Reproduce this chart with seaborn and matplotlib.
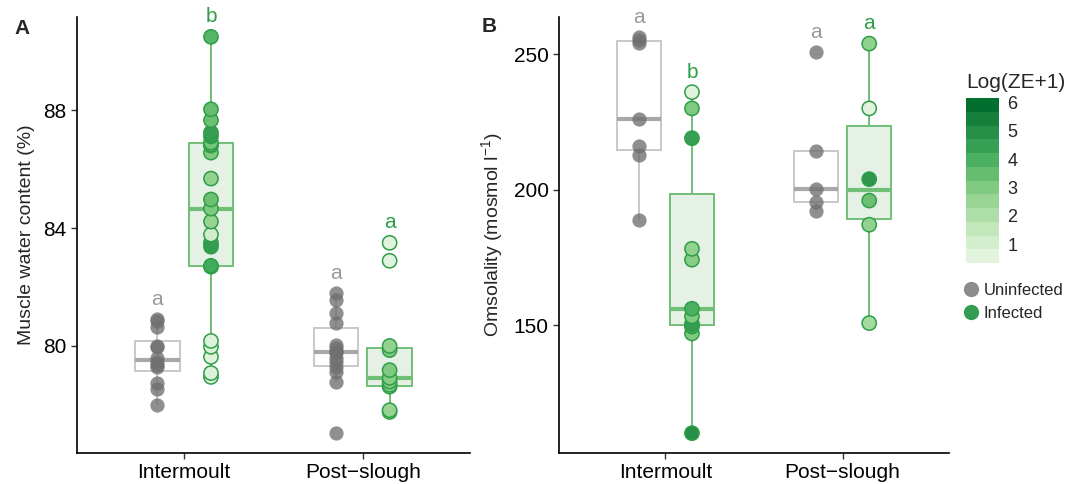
import numpy as np
import pandas as pd
import matplotlib
matplotlib.use("Agg")
import matplotlib.pyplot as plt
import seaborn as sns
from matplotlib.colors import ListedColormap, Normalize
from matplotlib.cm import ScalarMappable
from matplotlib.lines import Line2D

# ---------------------------------------------------------------- data
stages = ["Intermoult", "Post\u2212slough"]
statuses = ["Uninfected", "Infected"]

# Muscle water content (%)
water_uninf_inter = [78.0, 78.55, 78.75, 79.3, 79.35, 79.45, 79.6, 79.95, 80.0, 80.65, 80.85, 80.92]
water_inf_inter = [78.95, 79.08, 79.63, 79.97, 80.17, 82.69, 82.72, 83.37, 83.5, 83.78, 84.22,
                   84.66, 84.97, 85.68, 86.56, 86.8, 86.84, 86.9, 87.11, 87.24, 87.66, 88.03, 90.49]
water_inf_inter_ze = [0.5, 0.6, 0.5, 0.7, 0.6, 4.0, 4.2, 4.6, 4.6, 1.0, 2.5,
                      3.0, 3.4, 2.6, 3.0, 3.0, 3.3, 3.2, 4.6, 4.6, 3.4, 3.5, 3.8]
water_uninf_post = [77.04, 78.78, 79.1, 79.29, 79.45, 79.6, 79.78, 79.8, 79.93, 80.03, 80.78, 81.12, 81.56, 81.8]
water_inf_post = [77.76, 77.82, 78.62, 78.68, 78.79, 78.92, 79.18, 79.86, 80.0, 82.89, 83.5]
water_inf_post_ze = [2.4, 2.5, 2.6, 2.7, 3.0, 2.8, 3.0, 3.0, 2.6, 0.5, 0.5]
water_letters = ["a", "b", "a", "a"]

# Osmolality (mosmol l-1)
osmo_uninf_inter = [189.0, 212.9, 216.2, 226.0, 254.2, 255.3, 256.4]
osmo_inf_inter = [110.2, 147.0, 149.5, 150.5, 153.3, 156.1, 174.2, 178.2, 219.0, 230.0, 236.0]
osmo_inf_inter_ze = [5.0, 3.0, 4.2, 4.6, 3.0, 4.0, 2.8, 2.6, 4.5, 3.0, 0.5]
osmo_uninf_post = [192.0, 195.3, 200.2, 214.1, 250.8]
osmo_inf_post = [150.8, 187.1, 196.0, 203.9, 230.0, 253.9]
osmo_inf_post_ze = [2.2, 2.6, 3.4, 4.8, 0.5, 2.6]
osmo_letters = ["a", "b", "a", "a"]

ze_ticks = [1, 2, 3, 4, 5, 6]

# ---------------------------------------------------------------- style
sns.set_style("ticks")
plt.rcParams["font.family"] = ["Liberation Sans", "DejaVu Sans"]
plt.rcParams["mathtext.fontset"] = "custom"
plt.rcParams["mathtext.rm"] = "Liberation Sans"
plt.rcParams["mathtext.it"] = "Liberation Sans:italic"
plt.rcParams["mathtext.bf"] = "Liberation Sans:bold"

GREY_PT = "#707070"
GREY_BOX = "#c8c8c8"
GREY_MED = "#a8a8a8"
GREEN_EDGE = "#2e9e48"
GREEN_BOX = "#6fbf77"
GREEN_FILL = "#e5f1e5"
GREY_TXT = "#9a9a9a"
GREEN_TXT = "#2e9e48"

base = plt.get_cmap("Greens")
ze_cmap = ListedColormap(base(np.linspace(0.12, 0.88, 256)))
ze_norm = Normalize(vmin=0.34, vmax=6.15)

DODGE = 0.15
PT_SIZE = 105


def make_frame(groups):
    rows = []
    for (stage, status), (vals, ze) in groups.items():
        for i, v in enumerate(vals):
            rows.append({"stage": stage, "status": status, "value": v,
                         "ze": ze[i] if ze is not None else np.nan})
    df = pd.DataFrame(rows)
    code = df["stage"].map({s: i for i, s in enumerate(stages)})
    df["pos"] = code + np.where(df["status"] == "Uninfected", -DODGE, DODGE)
    return df


def draw_panel(ax, df, letters, ylabel, yticks):
    sns.boxplot(data=df, x="stage", y="value", hue="status", order=stages,
                hue_order=statuses, width=0.6, gap=0.17, showfliers=False,
                showcaps=False, saturation=1, linewidth=1.4,
                palette={"Uninfected": "white", "Infected": GREEN_FILL},
                medianprops={"linewidth": 3.0}, legend=False, ax=ax)

    # colour boxes by infection status (left of category = uninfected)
    for p in ax.patches:
        xc = p.get_path().vertices[:, 0].mean()
        if xc - round(xc) < 0:
            p.set_edgecolor(GREY_BOX)
            p.set_facecolor((1, 1, 1, 0))
        else:
            p.set_edgecolor(GREEN_BOX)
            p.set_facecolor(GREEN_FILL)
    for ln in ax.lines:
        xd = np.asarray(ln.get_xdata(), dtype=float)
        if xd.size == 0:
            continue
        xc = xd.mean()
        is_med = ln.get_linewidth() > 2
        if xc - round(xc) < 0:
            ln.set_color(GREY_MED if is_med else GREY_BOX)
        else:
            ln.set_color(GREEN_BOX)

    un = df[df["status"] == "Uninfected"]
    inf = df[df["status"] == "Infected"]
    sns.scatterplot(data=un, x="pos", y="value", color=GREY_PT, alpha=0.78,
                    s=PT_SIZE, linewidth=0, zorder=3, legend=False, ax=ax)
    sns.scatterplot(data=inf, x="pos", y="value", hue="ze", palette=ze_cmap,
                    hue_norm=ze_norm, s=PT_SIZE, edgecolor=GREEN_EDGE, linewidth=1.1,
                    zorder=4, legend=False, ax=ax)

    lo, hi = df["value"].min(), df["value"].max()
    rng = hi - lo
    ax.set_ylim(lo - 0.05 * rng, hi + 0.05 * rng)
    ax.set_xlim(-0.6, 1.6)

    k = 0
    for si, stage in enumerate(stages):
        for status in statuses:
            g = df[(df["stage"] == stage) & (df["status"] == status)]
            col = GREY_TXT if status == "Uninfected" else GREEN_TXT
            ax.text(g["pos"].iloc[0], g["value"].max() + 0.05 * rng, letters[k],
                    ha="center", va="center", color=col, fontsize=15, clip_on=False)
            k += 1

    ax.set_yticks(yticks)
    ax.set_xlabel("")
    ax.set_ylabel(ylabel, fontsize=14, labelpad=6)
    ax.tick_params(axis="both", labelsize=15, length=4, width=1.0, color="#333333",
                   labelcolor="black")
    sns.despine(ax=ax)
    for s in ("left", "bottom"):
        ax.spines[s].set_linewidth(1.2)
        ax.spines[s].set_color("black")


water_df = make_frame({
    (stages[0], "Uninfected"): (water_uninf_inter, None),
    (stages[0], "Infected"): (water_inf_inter, water_inf_inter_ze),
    (stages[1], "Uninfected"): (water_uninf_post, None),
    (stages[1], "Infected"): (water_inf_post, water_inf_post_ze),
})
osmo_df = make_frame({
    (stages[0], "Uninfected"): (osmo_uninf_inter, None),
    (stages[0], "Infected"): (osmo_inf_inter, osmo_inf_inter_ze),
    (stages[1], "Uninfected"): (osmo_uninf_post, None),
    (stages[1], "Infected"): (osmo_inf_post, osmo_inf_post_ze),
})

W, H = 1069, 484
fig = plt.figure(figsize=(W / 100, H / 100), dpi=100)
axA = fig.add_axes([77 / W, 1 - 453 / H, 393 / W, 436 / H])
axB = fig.add_axes([559 / W, 1 - 453 / H, 390 / W, 436 / H])

draw_panel(axA, water_df, water_letters, "Muscle water content (%)", [80, 84, 88])
draw_panel(axB, osmo_df, osmo_letters, r"Omsolality (mosmol l$^{\mathregular{-1}}$)", [150, 200, 250])

fig.text(22 / W, 1 - 28 / H, "A", fontsize=15, fontweight="bold", ha="center", va="center")
fig.text(489 / W, 1 - 27 / H, "B", fontsize=15, fontweight="bold", ha="center", va="center")

# colour bar for parasite load
cax = fig.add_axes([966 / W, 1 - 263 / H, 33 / W, 165 / H])
bar_cmap = ListedColormap(ze_cmap(np.linspace(0.02, 0.98, 12)))
cb = fig.colorbar(ScalarMappable(norm=ze_norm, cmap=bar_cmap), cax=cax, ticks=ze_ticks)
cb.outline.set_visible(False)
cax.tick_params(axis="y", direction="in", color="white", length=8, width=0.8,
                labelsize=13, pad=6, right=True, left=False)
cax.set_title("Log(ZE+1)", loc="left", fontsize=15, pad=7)

handles = [
    Line2D([], [], marker="o", linestyle="", markersize=11, markerfacecolor="#8c8c8c",
           markeredgecolor="none", label="Uninfected"),
    Line2D([], [], marker="o", linestyle="", markersize=11, markerfacecolor="#339c52",
           markeredgecolor="none", label="Infected"),
]
fig.legend(handles=handles, loc="upper left", bbox_to_anchor=(963 / W, 1 - 283 / H),
           frameon=False, fontsize=12, handlelength=1.0, handletextpad=0.25,
           labelspacing=0.45, borderpad=0, borderaxespad=0)

fig.savefig("out.png", dpi=100)
